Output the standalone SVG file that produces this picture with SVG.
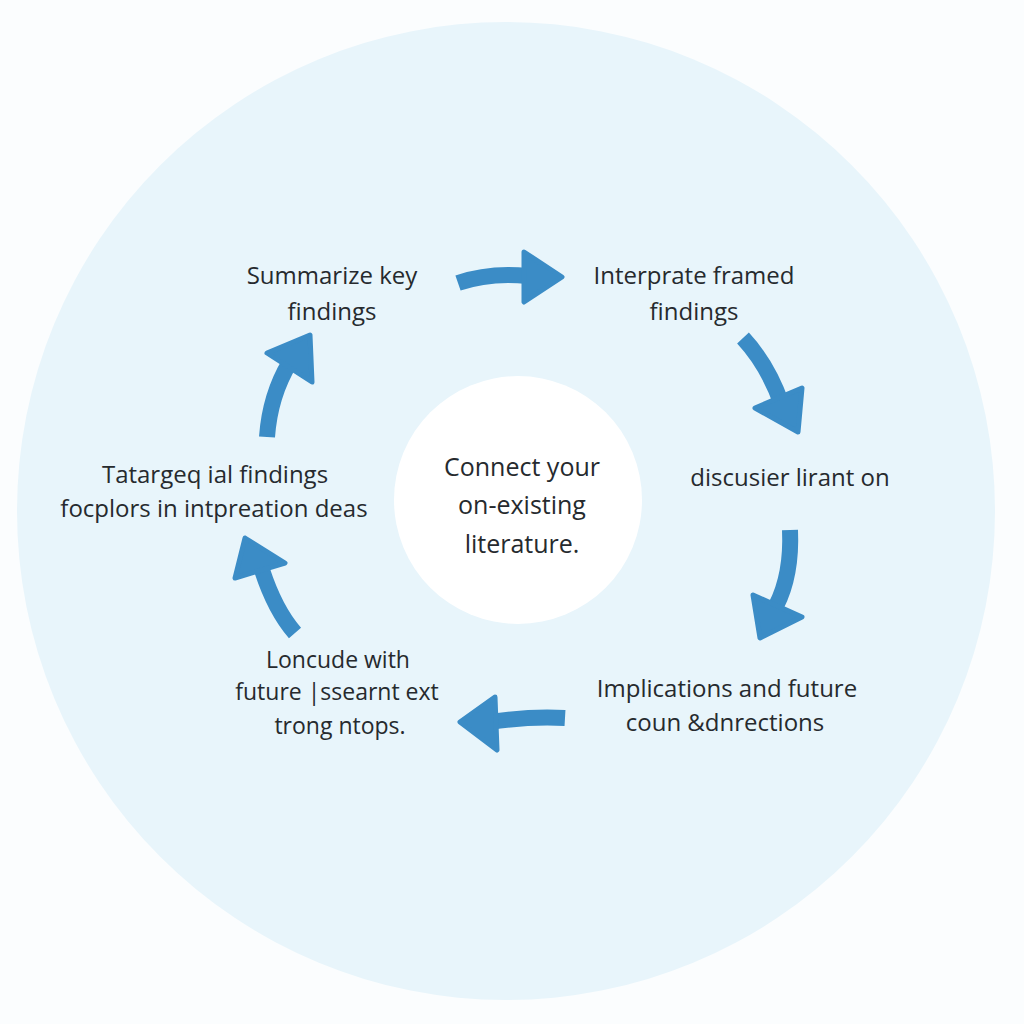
<svg xmlns="http://www.w3.org/2000/svg" width="1024" height="1024" viewBox="0 0 1024 1024">
<style>
.t{font-family:"Open Sans","Liberation Sans",sans-serif;font-size:24px;fill:#262a2e;text-anchor:middle}
.c{font-size:25px}
.s{font-size:23px}
.shaft{fill:none;stroke:#3b8cc6;stroke-width:16;stroke-linecap:butt}
.head{fill:#3b8cc6;stroke:#3b8cc6;stroke-width:5;stroke-linejoin:round}
</style>
<rect width="1024" height="1024" fill="#fbfdfe"/>
<circle cx="506" cy="511" r="489" fill="#e8f5fb"/>
<g id="center">
<circle cx="518" cy="500" r="124" fill="#ffffff"/>
<text class="t c" x="522" y="476">Connect your</text>
<text class="t c" x="522" y="514">on-existing</text>
<text class="t c" x="522" y="553">literature.</text>
</g>
<g id="n1">
<text class="t" x="332" y="284">Summarize key</text>
<text class="t" x="332" y="320">findings</text>
</g>
<g id="n2">
<text class="t" x="694" y="284">Interprate framed</text>
<text class="t" x="694" y="320">findings</text>
</g>
<g id="n3">
<text class="t" x="790" y="486">discusier lirant on</text>
</g>
<g id="n4">
<text class="t" x="727" y="697">Implications and future</text>
<text class="t" x="725" y="731">coun &amp;dnrections</text>
</g>
<g id="n5">
<text class="t s" x="338" y="668">Loncude with</text>
<text class="t s" x="337" y="700">future |ssearnt ext</text>
<text class="t s" x="340" y="734">trong ntops.</text>
</g>
<g id="n6">
<text class="t" x="215" y="483">Tatargeq ial findings</text>
<text class="t" x="214" y="517">focplors in intpreation deas</text>
</g>
<g id="connectors">
<path class="shaft" d="M458,283 Q490,272 528,276"/>
<polygon class="head" points="524,252 562,277 524,302"/>
<path class="shaft" d="M743,338 Q768,365 782,405"/>
<polygon class="head" points="755,408 802,388 798,432"/>
<path class="shaft" d="M790,530 Q792,575 776,606"/>
<polygon class="head" points="753,595 802,617 760,638"/>
<path class="shaft" d="M565,718 Q530,716 490,722"/>
<polygon class="head" points="495,697 460,722 497,750"/>
<path class="shaft" d="M295,633 Q275,610 262,570"/>
<polygon class="head" points="235,578 245,538 285,563"/>
<path class="shaft" d="M267,437 Q270,395 290,362"/>
<polygon class="head" points="267,353 310,335 312,382"/>
</g>
</svg>
